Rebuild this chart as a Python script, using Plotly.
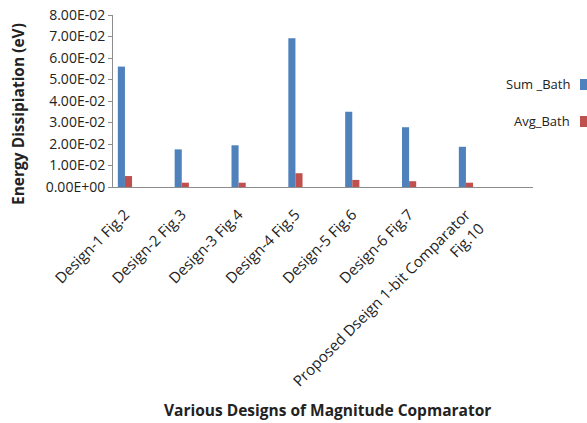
import plotly.graph_objects as go

categories = ["Design-1 Fig.2", "Design-2 Fig.3", "Design-3 Fig.4", "Design-4 Fig.5",
              "Design-5 Fig.6", "Design-6 Fig.7", "Proposed Dseign 1-bit Comparator<br>Fig.10"]
sum_bath = [0.0560, 0.0175, 0.0194, 0.0692, 0.0350, 0.0278, 0.0187]
avg_bath = [0.0051, 0.0020, 0.0020, 0.0064, 0.0033, 0.0027, 0.0020]
y_ticks = [0.0, 0.01, 0.02, 0.03, 0.04, 0.05, 0.06, 0.07, 0.08]

FONT = "Open Sans"
W, H = 587, 423
# plot box in page pixels: x 113..533, y 15..187
L, T = 113, 15
R = W - 533
B = H - 187
pw, ph = W - L - R, H - T - B


def px(xp):
    return (xp - L) / pw


def py(yp):
    return (H - B - yp) / ph


fig = go.Figure()
fig.add_trace(go.Bar(x=categories, y=sum_bath, name="Sum _Bath", marker_color="#4F81BD",
                     marker_line_width=0))
fig.add_trace(go.Bar(x=categories, y=avg_bath, name="Avg_Bath", marker_color="#C0504D",
                     marker_line_width=0))

fig.update_layout(
    width=W, height=H,
    margin=dict(l=L, r=R, t=T, b=B, pad=0, autoexpand=False),
    paper_bgcolor="white", plot_bgcolor="white",
    barmode="group", bargap=0.75, bargroupgap=0,
    showlegend=False,
    font=dict(family=FONT, size=13, color="#222222"),
)
fig.update_xaxes(
    type="category", range=[-0.21, 7.18], automargin=False,
    showline=True, linecolor="#8c8c8c", linewidth=1,
    ticks="", tickangle=-45, ticklabelstandoff=12, showgrid=False, zeroline=False,
    tickfont=dict(family=FONT, size=15, color="#222222"),
)
fig.update_yaxes(
    range=[0, 0.08], tickvals=y_ticks, ticktext=[f"{v:.2E}" for v in y_ticks],
    automargin=False, ticklabeloverflow="allow",
    showline=True, linecolor="#8c8c8c", linewidth=1,
    ticks="outside", ticklen=4, tickcolor="#8c8c8c",
    showgrid=False, zeroline=False,
    tickfont=dict(family=FONT, size=14, color="#222222"),
)

# axis titles
fig.add_annotation(text="<b>Various Designs of Magnitude Copmarator</b>",
                   xref="paper", yref="paper", x=px(327), y=py(410),
                   showarrow=False, xanchor="center", yanchor="middle",
                   font=dict(family=FONT, size=15.5, color="#222222"))
fig.add_annotation(text="<b>Energy Dissipiation (eV)</b>",
                   xref="paper", yref="paper", x=px(18), y=py(114),
                   showarrow=False, xanchor="center", yanchor="middle", textangle=-90,
                   font=dict(family=FONT, size=15.5, color="#222222"))

# legend (text left of swatch)
legend_items = [("Sum _Bath", "#4F81BD", 84), ("Avg_Bath", "#C0504D", 121)]
for name, col, ypx in legend_items:
    fig.add_annotation(text=name, xref="paper", yref="paper",
                       x=px(572), y=py(ypx),
                       showarrow=False, xanchor="right", yanchor="middle",
                       font=dict(family=FONT, size=13, color="#222222"))
    fig.add_shape(type="rect", xref="paper", yref="paper",
                  x0=px(580), x1=px(587),
                  y0=py(ypx + 6), y1=py(ypx - 5),
                  fillcolor=col, line_width=0)

fig.write_html("out.html", config={"displayModeBar": False},
               post_script="document.body.style.margin='0';"
               "document.body.style.overflow='hidden';")
